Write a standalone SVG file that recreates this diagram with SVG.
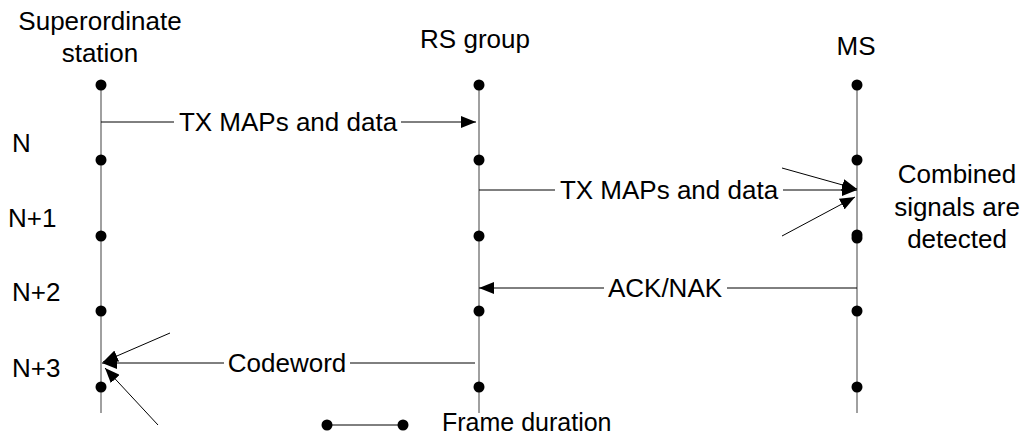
<svg xmlns="http://www.w3.org/2000/svg" width="1023" height="436" viewBox="0 0 1023 436">
<style>
text{font-family:"Liberation Sans",Arial,sans-serif;font-size:26px;fill:#000}
.c{text-anchor:middle}
.life{stroke:#808080;stroke-width:1.5;fill:none}
.dot{fill:#000}
.ln{stroke:#000;stroke-width:1;fill:none}
</style>
<defs>
<marker id="ah" markerWidth="16" markerHeight="12" refX="15" refY="6" orient="auto" markerUnits="userSpaceOnUse">
<path d="M0,0 L15,6 L0,12 Z" fill="#000"/>
</marker>
</defs>
<rect width="1023" height="436" fill="#fff"/>
<g id="superordinate">
<line class="life" x1="101" y1="85" x2="101" y2="413"/>
<circle class="dot" cx="101" cy="85" r="5.5"/><circle class="dot" cx="101" cy="160" r="5.5"/><circle class="dot" cx="101" cy="236" r="5.5"/><circle class="dot" cx="101" cy="311" r="5.5"/><circle class="dot" cx="101" cy="387" r="5.5"/>
<text class="c" x="100" y="30">Superordinate</text>
<text class="c" x="100" y="62">station</text>
</g>
<g id="rsgroup">
<line class="life" x1="479" y1="85" x2="479" y2="413"/>
<circle class="dot" cx="479" cy="85" r="5.5"/><circle class="dot" cx="479" cy="160" r="5.5"/><circle class="dot" cx="479" cy="236" r="5.5"/><circle class="dot" cx="479" cy="311" r="5.5"/><circle class="dot" cx="479" cy="387" r="5.5"/>
<text class="c" x="475" y="48">RS group</text>
</g>
<g id="ms">
<line class="life" x1="857" y1="85" x2="857" y2="413"/>
<circle class="dot" cx="857" cy="85" r="5.5"/><circle class="dot" cx="857" cy="160" r="5.5"/><circle class="dot" cx="857" cy="235" r="5.5"/><circle class="dot" cx="857" cy="238" r="5.5"/><circle class="dot" cx="857" cy="311" r="5.5"/><circle class="dot" cx="857" cy="387" r="5.5"/>
<text class="c" x="856" y="55">MS</text>
<text class="c" x="957" y="183">Combined</text>
<text class="c" x="957" y="216">signals are</text>
<text class="c" x="957" y="248">detected</text>
</g>
<g id="frames">
<text x="12" y="152">N</text>
<text x="8" y="227">N+1</text>
<text x="12" y="301">N+2</text>
<text x="12" y="377">N+3</text>
</g>
<g id="connectors">
<line class="ln" x1="101" y1="122" x2="174" y2="122"/>
<line class="ln" x1="401" y1="122" x2="476" y2="122" marker-end="url(#ah)"/>
<text class="c" x="288" y="131">TX MAPs and data</text>
<line class="ln" x1="479" y1="190" x2="555" y2="190"/>
<line class="ln" x1="783" y1="190" x2="857" y2="190" marker-end="url(#ah)"/>
<text class="c" x="669" y="199">TX MAPs and data</text>
<line class="ln" x1="782" y1="168" x2="857" y2="189" marker-end="url(#ah)"/>
<line class="ln" x1="782" y1="236" x2="855" y2="197" marker-end="url(#ah)"/>
<line class="ln" x1="857" y1="288" x2="727" y2="288"/>
<line class="ln" x1="604" y1="288" x2="479" y2="288" marker-end="url(#ah)"/>
<text class="c" x="665" y="297">ACK/NAK</text>
<line class="ln" x1="475" y1="363" x2="350" y2="363"/>
<line class="ln" x1="224" y1="363" x2="102" y2="363" marker-end="url(#ah)"/>
<text class="c" x="287" y="372">Codeword</text>
<line class="ln" x1="170" y1="333" x2="103" y2="362" marker-end="url(#ah)"/>
<line class="ln" x1="158" y1="425" x2="105" y2="368" marker-end="url(#ah)"/>
</g>
<g id="legend">
<line class="ln" x1="327" y1="425" x2="403" y2="425"/>
<circle class="dot" cx="327" cy="425" r="5.5"/><circle class="dot" cx="403" cy="425" r="5.5"/>
<text x="442" y="431" style="font-size:25px">Frame duration</text>
</g>
</svg>
